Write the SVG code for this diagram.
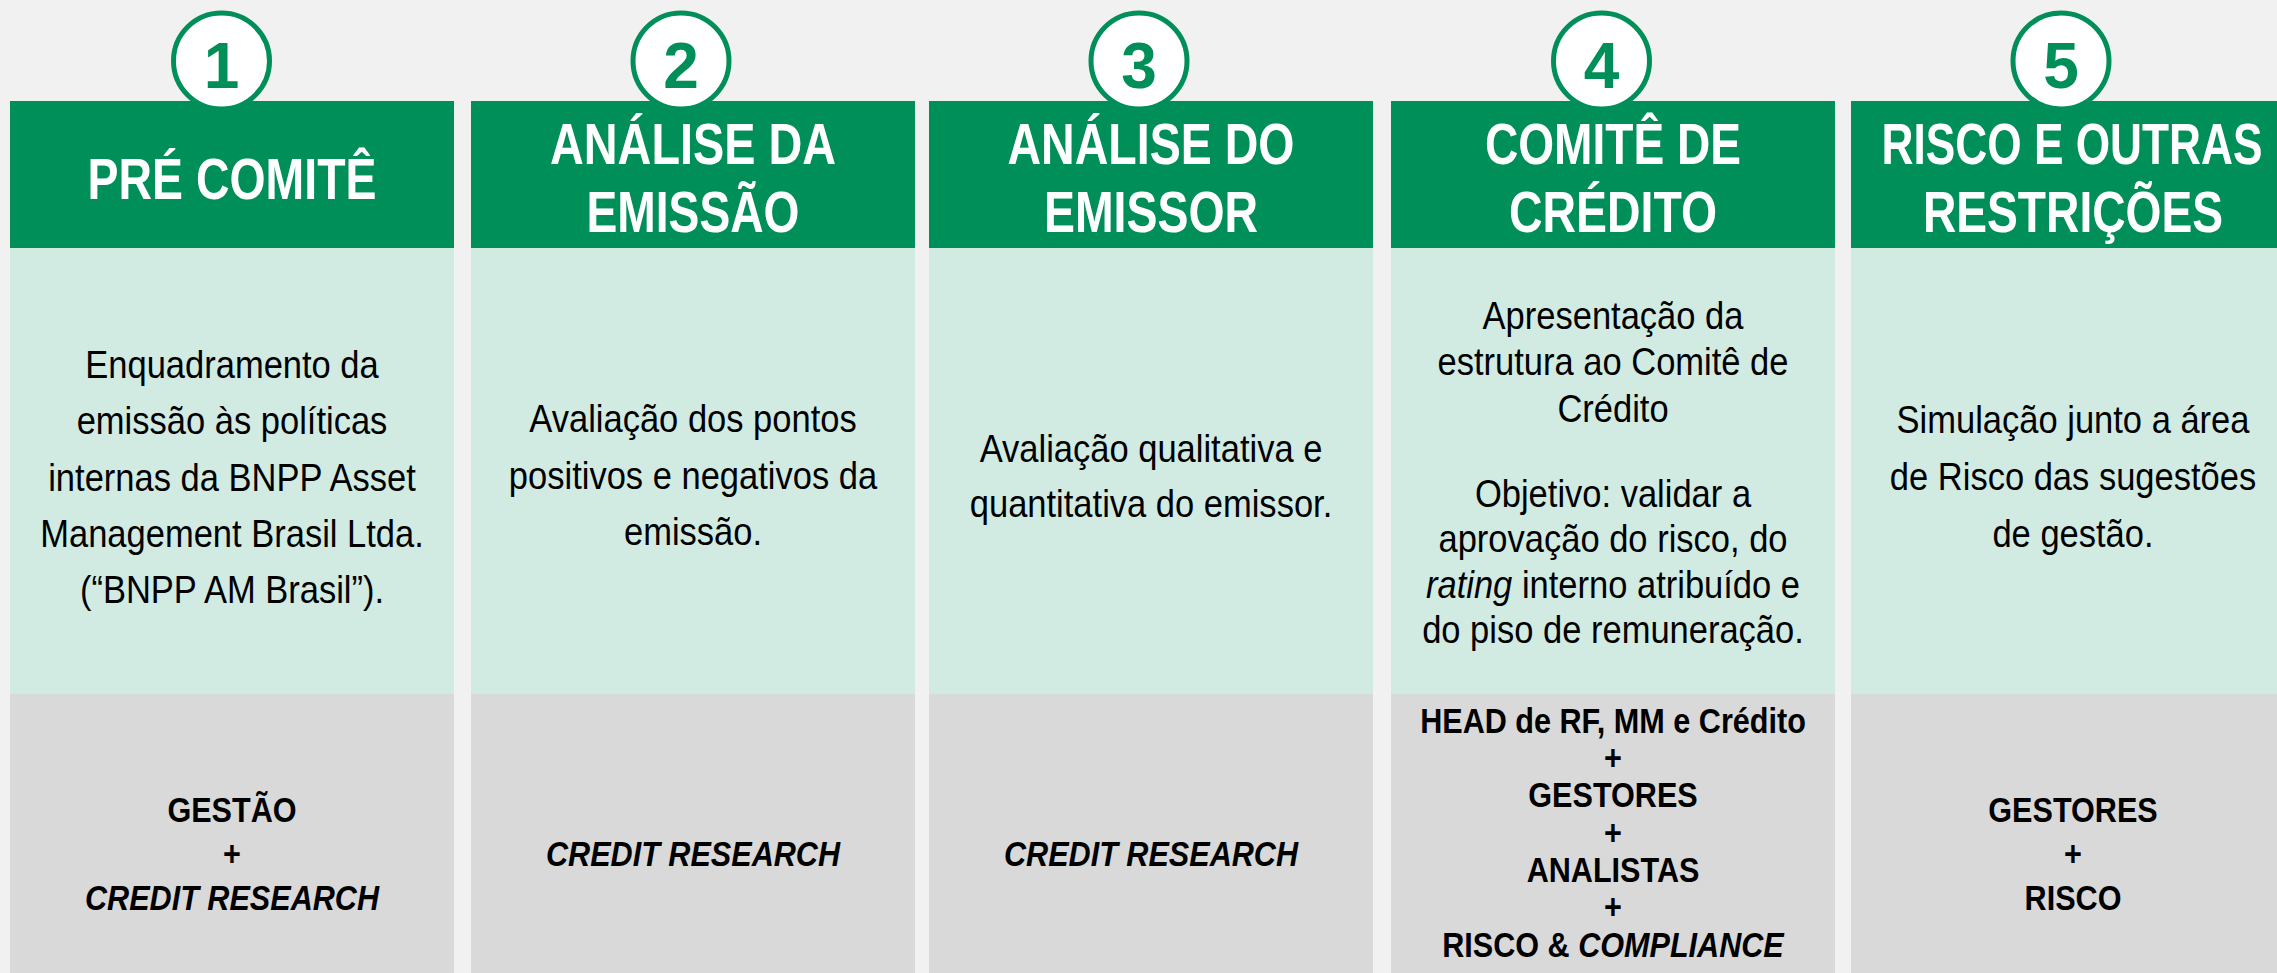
<svg xmlns="http://www.w3.org/2000/svg" width="2277" height="973" viewBox="0 0 2277 973">
<style>
.hd{fill:#008F59}
.bd{fill:#D1EBE3}
.ft{fill:#D9D9D9}
.num-c{fill:#FFFFFF;stroke:#008F59;stroke-width:5}
.num{font-family:"Liberation Sans",Arial,sans-serif;font-weight:bold;font-size:64px;fill:#008F59;text-anchor:middle}
.ht{font-family:"Liberation Sans",Arial,sans-serif;font-weight:bold;font-size:57px;fill:#FFFFFF;text-anchor:middle}
.bt{font-family:"Liberation Sans",Arial,sans-serif;font-size:39px;fill:#000000;text-anchor:middle}
.fb{font-family:"Liberation Sans",Arial,sans-serif;font-weight:bold;font-size:36px;fill:#000000;text-anchor:middle}
.it{font-style:italic}
</style>
<rect x="0" y="0" width="2277" height="973" fill="#F1F1F1"/>
<g id="connectors"/>

<g id="step1">
  <rect class="hd" x="10" y="101" width="444" height="147"/>
  <rect class="bd" x="10" y="248" width="444" height="446"/>
  <rect class="ft" x="10" y="694" width="444" height="279"/>
  <circle class="num-c" cx="221.5" cy="61" r="48"/>
  <text class="num" x="221.5" y="88">1</text>
  <text class="ht" x="232" y="199" textLength="289" lengthAdjust="spacingAndGlyphs">PRÉ COMITÊ</text>
  <g transform="translate(232,0) scale(0.885,1)">
    <text class="bt" x="0" y="378">Enquadramento da</text>
    <text class="bt" x="0" y="434">emissão às políticas</text>
    <text class="bt" x="0" y="491">internas da BNPP Asset</text>
    <text class="bt" x="0" y="547">Management Brasil Ltda.</text>
    <text class="bt" x="0" y="603">(“BNPP AM Brasil”).</text>
  </g>
  <g transform="translate(232,0) scale(0.85,1)">
    <text class="fb" x="0" y="822">GESTÃO</text>
    <text class="fb" x="0" y="866">+</text>
    <text class="fb it" x="0" y="910">CREDIT RESEARCH</text>
  </g>
</g>

<g id="step2">
  <rect class="hd" x="471" y="101" width="444" height="147"/>
  <rect class="bd" x="471" y="248" width="444" height="446"/>
  <rect class="ft" x="471" y="694" width="444" height="279"/>
  <circle class="num-c" cx="681" cy="61" r="48"/>
  <text class="num" x="681" y="88">2</text>
  <text class="ht" x="693" y="164" textLength="286" lengthAdjust="spacingAndGlyphs">ANÁLISE DA</text>
  <text class="ht" x="693" y="232" textLength="213" lengthAdjust="spacingAndGlyphs">EMISSÃO</text>
  <g transform="translate(693,0) scale(0.885,1)">
    <text class="bt" x="0" y="432">Avaliação dos pontos</text>
    <text class="bt" x="0" y="489">positivos e negativos da</text>
    <text class="bt" x="0" y="545">emissão.</text>
  </g>
  <g transform="translate(693,0) scale(0.85,1)">
    <text class="fb it" x="0" y="866">CREDIT RESEARCH</text>
  </g>
</g>

<g id="step3">
  <rect class="hd" x="929" y="101" width="444" height="147"/>
  <rect class="bd" x="929" y="248" width="444" height="446"/>
  <rect class="ft" x="929" y="694" width="444" height="279"/>
  <circle class="num-c" cx="1139" cy="61" r="48"/>
  <text class="num" x="1139" y="88">3</text>
  <text class="ht" x="1151" y="164" textLength="287" lengthAdjust="spacingAndGlyphs">ANÁLISE DO</text>
  <text class="ht" x="1151" y="232" textLength="214" lengthAdjust="spacingAndGlyphs">EMISSOR</text>
  <g transform="translate(1151,0) scale(0.885,1)">
    <text class="bt" x="0" y="462">Avaliação qualitativa e</text>
    <text class="bt" x="0" y="517">quantitativa do emissor.</text>
  </g>
  <g transform="translate(1151,0) scale(0.85,1)">
    <text class="fb it" x="0" y="866">CREDIT RESEARCH</text>
  </g>
</g>

<g id="step4">
  <rect class="hd" x="1391" y="101" width="444" height="147"/>
  <rect class="bd" x="1391" y="248" width="444" height="446"/>
  <rect class="ft" x="1391" y="694" width="444" height="279"/>
  <circle class="num-c" cx="1601.5" cy="61" r="48"/>
  <text class="num" x="1601.5" y="88">4</text>
  <text class="ht" x="1613" y="164" textLength="256" lengthAdjust="spacingAndGlyphs">COMITÊ DE</text>
  <text class="ht" x="1613" y="232" textLength="208" lengthAdjust="spacingAndGlyphs">CRÉDITO</text>
  <g transform="translate(1613,0) scale(0.885,1)">
    <text class="bt" x="0" y="329">Apresentação da</text>
    <text class="bt" x="0" y="375">estrutura ao Comitê de</text>
    <text class="bt" x="0" y="422">Crédito</text>
    <text class="bt" x="0" y="507">Objetivo: validar a</text>
    <text class="bt" x="0" y="552">aprovação do risco, do</text>
    <text class="bt" x="0" y="598"><tspan class="it">rating</tspan> interno atribuído e</text>
    <text class="bt" x="0" y="643">do piso de remuneração.</text>
  </g>
  <g transform="translate(1613,0) scale(0.85,1)">
    <text class="fb" x="0" y="733">HEAD de RF, MM e Crédito</text>
    <text class="fb" x="0" y="770">+</text>
    <text class="fb" x="0" y="807">GESTORES</text>
    <text class="fb" x="0" y="845">+</text>
    <text class="fb" x="0" y="882">ANALISTAS</text>
    <text class="fb" x="0" y="919">+</text>
    <text class="fb" x="0" y="957">RISCO &amp; <tspan class="it">COMPLIANCE</tspan></text>
  </g>
</g>

<g id="step5">
  <rect class="hd" x="1851" y="101" width="426" height="147"/>
  <rect class="bd" x="1851" y="248" width="426" height="446"/>
  <rect class="ft" x="1851" y="694" width="426" height="279"/>
  <circle class="num-c" cx="2061" cy="61" r="48"/>
  <text class="num" x="2061" y="88">5</text>
  <g transform="translate(2072,0) scale(0.776,1)">
    <text class="ht" x="0" y="164">RISCO E OUTRAS</text>
  </g>
  <g transform="translate(2073,0) scale(0.81,1)">
    <text class="ht" x="0" y="232">RESTRIÇÕES</text>
  </g>
  <g transform="translate(2073,0) scale(0.885,1)">
    <text class="bt" x="0" y="433">Simulação junto a área</text>
    <text class="bt" x="0" y="490">de Risco das sugestões</text>
    <text class="bt" x="0" y="547">de gestão.</text>
  </g>
  <g transform="translate(2073,0) scale(0.85,1)">
    <text class="fb" x="0" y="822">GESTORES</text>
    <text class="fb" x="0" y="866">+</text>
    <text class="fb" x="0" y="910">RISCO</text>
  </g>
</g>
</svg>
